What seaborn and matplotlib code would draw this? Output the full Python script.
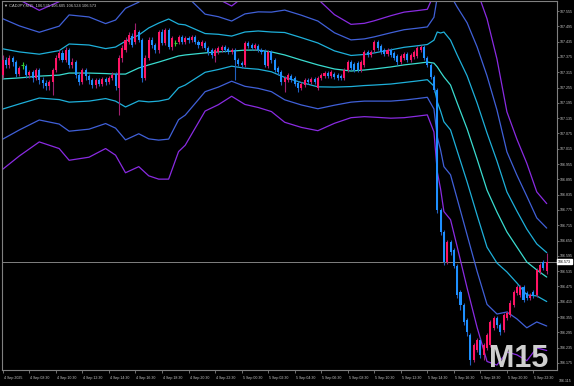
import matplotlib
matplotlib.use("Agg")
import matplotlib.pyplot as plt
import matplotlib.transforms as mtransforms
import numpy as np
import pandas as pd
import seaborn as sns

# ---------------- data ----------------
symbol_title = "\u25BC CADJPY,M15  106.535 106.605 106.524 106.573"
watermark = "M15"

opens = [107.304,107.363,107.344,107.371,107.355,107.308,107.344,107.340,107.304,107.316,
107.293,107.324,107.285,107.273,107.261,107.277,107.324,107.371,107.391,107.363,
107.402,107.344,107.355,107.304,107.277,107.324,107.300,107.285,107.265,107.285,
107.269,107.289,107.277,107.293,107.308,107.253,107.371,107.402,107.434,107.457,
107.434,107.473,107.442,107.293,107.371,107.442,107.422,107.402,107.473,107.430,
107.481,107.414,107.430,107.434,107.453,107.434,107.449,107.442,107.453,107.434,
107.418,107.430,107.410,107.402,107.379,107.395,107.402,107.414,107.406,107.395,
107.402,107.363,107.351,107.344,107.430,107.422,107.410,107.418,107.402,107.398,
107.340,107.395,107.363,107.332,107.316,107.277,107.285,107.300,107.293,107.273,
107.253,107.265,107.285,107.277,107.289,107.253,107.293,107.300,107.312,107.300,
107.308,107.304,107.300,107.293,107.324,107.355,107.348,107.351,107.324,107.344,
107.395,107.383,107.402,107.434,107.418,107.402,107.387,107.402,107.391,107.379,
107.355,107.371,107.387,107.363,107.375,107.379,107.402,107.414,107.371,107.344,
107.297,107.246,106.775,106.689,106.571,106.649,106.618,106.555,106.453,106.402,
106.344,106.285,106.187,106.226,106.265,106.206,106.234,106.246,106.312,106.351,
106.324,106.304,106.351,106.363,106.402,106.450,106.442,106.473,106.450,106.430,
106.453,106.442,106.532,106.571,106.535]

closes = [107.363,107.344,107.371,107.355,107.308,107.332,107.344,107.304,107.316,107.293,
107.324,107.285,107.273,107.261,107.277,107.324,107.371,107.391,107.363,107.402,
107.344,107.355,107.304,107.277,107.324,107.300,107.285,107.265,107.285,107.269,
107.289,107.277,107.293,107.304,107.261,107.371,107.410,107.442,107.461,107.422,
107.481,107.442,107.293,107.371,107.442,107.422,107.402,107.473,107.430,107.481,
107.414,107.449,107.430,107.453,107.434,107.449,107.442,107.453,107.434,107.422,
107.434,107.410,107.395,107.383,107.402,107.410,107.414,107.402,107.395,107.402,
107.363,107.348,107.344,107.430,107.418,107.410,107.422,107.402,107.395,107.344,
107.395,107.363,107.324,107.316,107.277,107.293,107.304,107.285,107.269,107.253,
107.269,107.285,107.277,107.289,107.277,107.293,107.304,107.312,107.300,107.316,
107.297,107.293,107.293,107.324,107.355,107.332,107.324,107.324,107.355,107.395,
107.383,107.395,107.434,107.410,107.395,107.387,107.402,107.383,107.371,107.355,
107.379,107.387,107.363,107.383,107.395,107.410,107.414,107.371,107.344,107.297,
107.246,106.775,106.689,106.571,106.649,106.610,106.555,106.442,106.402,106.336,
106.297,106.187,106.246,106.265,106.206,106.246,106.285,106.336,106.351,106.324,
106.297,106.363,106.371,106.410,106.453,106.473,106.473,106.422,106.430,106.442,
106.438,106.540,106.559,106.548,106.573]

highs = [107.383,107.375,107.383,107.379,107.363,107.340,107.355,107.348,107.324,107.324,
107.332,107.332,107.297,107.285,107.285,107.332,107.383,107.402,107.402,107.414,
107.410,107.371,107.363,107.316,107.332,107.332,107.308,107.293,107.293,107.293,
107.297,107.297,107.300,107.316,107.316,107.383,107.422,107.453,107.473,107.469,
107.508,107.481,107.449,107.383,107.453,107.453,107.430,107.481,107.485,107.489,
107.489,107.457,107.442,107.461,107.461,107.457,107.457,107.461,107.461,107.442,
107.442,107.438,107.418,107.410,107.410,107.418,107.422,107.422,107.414,107.410,
107.410,107.371,107.359,107.438,107.438,107.430,107.430,107.426,107.410,107.406,
107.402,107.402,107.371,107.340,107.324,107.300,107.312,107.308,107.300,107.281,
107.277,107.293,107.293,107.297,107.297,107.300,107.312,107.320,107.320,107.324,
107.316,107.312,107.308,107.332,107.363,107.363,107.355,107.359,107.363,107.402,
107.402,107.402,107.442,107.442,107.426,107.410,107.410,107.410,107.398,107.387,
107.387,107.395,107.395,107.391,107.402,107.418,107.422,107.422,107.379,107.351,
107.304,107.253,106.783,106.697,106.657,106.657,106.626,106.563,106.461,106.410,
106.351,106.293,106.253,106.273,106.273,106.253,106.293,106.344,106.359,106.359,
106.332,106.371,106.379,106.422,106.461,106.481,106.481,106.481,106.457,106.450,
106.461,106.548,106.567,106.579,106.605]

lows = [107.293,107.332,107.332,107.340,107.297,107.300,107.328,107.293,107.293,107.277,
107.285,107.269,107.253,107.246,107.246,107.226,107.316,107.363,107.355,107.355,
107.332,107.332,107.293,107.265,107.269,107.285,107.269,107.253,107.253,107.261,
107.261,107.265,107.269,107.285,107.246,107.148,107.355,107.395,107.426,107.414,
107.426,107.434,107.277,107.285,107.363,107.410,107.391,107.391,107.422,107.422,
107.406,107.402,107.418,107.426,107.426,107.426,107.430,107.434,107.426,107.410,
107.410,107.402,107.383,107.371,107.355,107.387,107.395,107.395,107.387,107.387,
107.285,107.340,107.332,107.336,107.410,107.402,107.402,107.395,107.387,107.336,
107.332,107.351,107.316,107.304,107.265,107.238,107.277,107.277,107.261,107.238,
107.246,107.257,107.269,107.269,107.269,107.246,107.285,107.293,107.293,107.293,
107.289,107.285,107.285,107.285,107.316,107.324,107.316,107.316,107.316,107.336,
107.375,107.375,107.395,107.402,107.387,107.379,107.379,107.375,107.363,107.344,
107.348,107.363,107.355,107.355,107.367,107.371,107.395,107.363,107.336,107.289,
107.238,106.763,106.677,106.559,106.563,106.598,106.548,106.430,106.383,106.324,
106.281,106.167,106.179,106.218,106.195,106.187,106.226,106.238,106.304,106.312,
106.285,106.297,106.344,106.355,106.395,106.442,106.434,106.414,106.422,106.422,
106.430,106.434,106.524,106.540,106.524]

# Bollinger-type band indicator: middle line and one deviation, read at these bars
band_bars = [0,5,11,17,20,26,31,34,37,41,44,47,50,53,55,61,65,69,73,77,81,85,90,95,100,
             105,109,112,117,121,125,128,130,131,132,133,135,137,140,143,146,149,152,155,158,161,164]
band_mid = [107.289,107.293,107.300,107.304,107.312,107.312,107.310,107.308,107.308,107.332,
            107.344,107.355,107.367,107.379,107.383,107.391,107.395,107.398,107.402,107.402,
            107.395,107.383,107.363,107.344,107.328,107.320,107.324,107.328,107.336,107.344,
            107.350,107.355,107.351,107.336,107.316,107.297,107.265,107.195,107.093,106.975,
            106.853,106.767,106.689,106.630,106.571,106.540,106.512]
band_dev = [0.118,0.102,0.086,0.096,0.114,0.110,0.098,0.106,0.129,0.129,0.145,0.153,0.157,
            0.125,0.118,0.076,0.069,0.059,0.071,0.075,0.078,0.088,0.088,0.086,0.071,0.061,
            0.061,0.063,0.067,0.069,0.069,0.069,0.090,0.137,0.153,0.176,0.176,0.188,0.208,
            0.220,0.224,0.200,0.157,0.141,0.129,0.102,0.096]
band_names = ["upper 3", "upper 2", "upper 1", "middle", "lower 1", "lower 2", "lower 3"]
band_mults = [3, 2, 1, 0, -1, -2, -3]

price_ticks = [107.555,107.495,107.435,107.375,107.315,107.255,107.195,107.135,107.075,107.015,
               106.955,106.895,106.835,106.775,106.715,106.655,106.595,106.535,106.475,106.415,
               106.355,106.295,106.235,106.175]
bottom_price_label = "106.115"
time_labels = ["4 Sep 2025","4 Sep 08:30","4 Sep 10:30","4 Sep 12:30","4 Sep 14:30",
               "4 Sep 16:30","4 Sep 18:30","4 Sep 20:30","4 Sep 22:30","5 Sep 00:30",
               "5 Sep 02:30","5 Sep 04:30","5 Sep 06:30","5 Sep 08:30","5 Sep 10:30",
               "5 Sep 12:30","5 Sep 14:30","5 Sep 16:30","5 Sep 18:30","5 Sep 20:30",
               "5 Sep 22:30"]
bars_per_label = 8

# ---------------- styling ----------------
sns.set_style("dark", {"axes.facecolor": "black", "figure.facecolor": "black"})
plt.rcParams["font.family"] = ["Liberation Sans", "DejaVu Sans"]

UP = "#FF1464"
DOWN = "#1E90FF"
DOJI = "#32CD32"
UP_WICK = "#A0206E"
DOWN_WICK = "#2060C0"
band_colors = {"upper 3": "#8A2BE2", "upper 2": "#4060D8", "upper 1": "#1EB0DA",
               "middle": "#3ADCD0", "lower 1": "#1EB0DA", "lower 2": "#4060D8",
               "lower 3": "#8A2BE2"}
GRID_GRAY = "#808080"
TEXT = "#c8c8c8"
FS = 2.6

W, H = 574, 386
fig = plt.figure(figsize=(W / 100, H / 100), dpi=100, facecolor="black")
ax = fig.add_axes([2 / W, 16 / H, 555 / W, 369 / H])
ax.set_facecolor("black")

df = pd.DataFrame({"bar": np.arange(len(opens)), "open": opens, "high": highs,
                   "low": lows, "close": closes})
up = df[df.close > df.open]
dn = df[df.close < df.open]
dj = df[df.close == df.open]

# bands
rows = []
for name, k in zip(band_names, band_mults):
    for b, m, d in zip(band_bars, band_mid, band_dev):
        rows.append((name, b, m + k * d))
bands = pd.DataFrame(rows, columns=["band", "bar", "price"])
sns.lineplot(data=bands, x="bar", y="price", hue="band", hue_order=band_names,
             palette=band_colors, legend=False, linewidth=0.9, ax=ax, zorder=2)

# candles
ax.vlines(up.bar, up.low, up.high, colors=UP_WICK, linewidth=0.8, zorder=3)
ax.vlines(dn.bar, dn.low, dn.high, colors=DOWN_WICK, linewidth=0.8, zorder=3)
ax.vlines(dj.bar, dj.low, dj.high, colors=DOJI, linewidth=0.8, zorder=3)
ax.bar(up.bar, up.close - up.open, bottom=up.open, width=0.62, color=UP, linewidth=0, zorder=4)
ax.bar(dn.bar, dn.close - dn.open, bottom=dn.open, width=0.62, color=DOWN, linewidth=0, zorder=4)
ax.hlines(dj.close, dj.bar - 0.4, dj.bar + 0.4, colors=DOJI, linewidth=0.8, zorder=4)

# current price line
last = closes[-1]
ax.axhline(last, color=GRID_GRAY, linewidth=0.7, zorder=1)

ax.set_xlim(-0.24, 167.1)
ax.set_ylim(106.1475, 107.5946)
ax.set_xlabel("")
ax.set_ylabel("")
ax.grid(False)
for s in ax.spines.values():
    s.set_visible(True)
    s.set_color(GRID_GRAY)
    s.set_linewidth(0.8)

ax.yaxis.tick_right()
ax.set_yticks(price_ticks)
ax.set_yticklabels([f"{p:.3f}" for p in price_ticks])
ax.tick_params(axis="y", which="both", right=True, left=False, direction="out",
               length=1.5, width=0.6, colors=GRID_GRAY, labelcolor=TEXT,
               labelsize=FS, pad=0.6)

xt = np.arange(len(time_labels)) * bars_per_label
ax.set_xticks(xt)
ax.set_xticklabels(time_labels)
ax.tick_params(axis="x", which="both", bottom=True, direction="out", length=2,
               width=0.6, colors=GRID_GRAY, labelcolor=TEXT, labelsize=FS, pad=2.2)
off = mtransforms.ScaledTranslation(1.0 / 100, 0, fig.dpi_scale_trans)
for lab in ax.get_xticklabels():
    lab.set_horizontalalignment("left")
    lab.set_transform(lab.get_transform() + off)

ax.annotate(f"{last:.3f}", xy=(1, last), xycoords=("axes fraction", "data"),
            xytext=(0.8, 0), textcoords="offset points", ha="left", va="center",
            fontsize=FS, color="black", zorder=10,
            bbox=dict(boxstyle="square,pad=0.2", fc="white", ec="white"),
            annotation_clip=False)

fig.text(559 / W, 1 - 381 / H, bottom_price_label, fontsize=FS, color=TEXT,
         ha="left", va="center")
fig.text(4 / W, 1 - 6 / H, symbol_title, fontsize=2.9, color=TEXT, ha="left", va="center")
fig.text(548 / W, 1 - 367 / H, watermark, fontsize=22, weight="bold", color="#cfcfcf",
         ha="right", va="baseline", zorder=20)

fig.savefig("out.png", dpi=100, facecolor="black")
